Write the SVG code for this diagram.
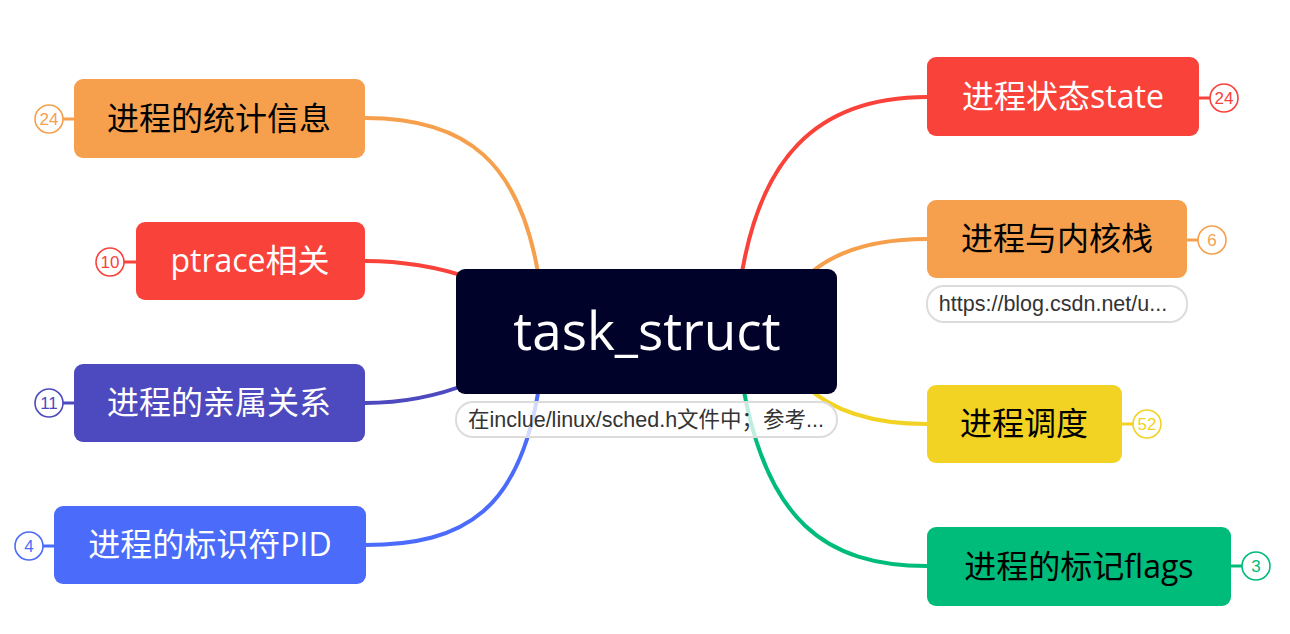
<svg xmlns="http://www.w3.org/2000/svg" width="1290" height="634" viewBox="0 0 1290 634">
<style>
.cj{font-family:"Open Sans","Noto Sans CJK SC",sans-serif;font-size:32px;text-anchor:middle}
.bd{fill:#fff;stroke-width:1.6}
.bt{font-family:"Liberation Sans",sans-serif;font-size:17px;text-anchor:middle}
.ln{fill:none;stroke-width:4;stroke-linecap:round}
.note rect{fill:#fff;fill-opacity:0.75;stroke:#dcdcdc;stroke-width:2}
.note text{font-family:"Liberation Sans","Noto Sans CJK SC",sans-serif;font-size:21.5px;fill:#333;text-anchor:middle}
</style>
<rect width="1290" height="634" fill="#fff"/>
<g id="connectors">
<path class="ln" stroke="#F6A04D" d="M540 285 C522 160 465 118 365 118"/>
<path class="ln" stroke="#F9423A" d="M470 278 Q420 261 365 261"/>
<path class="ln" stroke="#4D49BE" d="M470 383 Q420 403 365 403"/>
<path class="ln" stroke="#4B6BFB" d="M540 380 C522 510 465 545 365 545"/>
<path class="ln" stroke="#F9423A" d="M740 285 C758 160 815 97 927 97"/>
<path class="ln" stroke="#F6A04D" d="M805 278 Q845 239 927 239"/>
<path class="ln" stroke="#F2D323" d="M805 385 Q845 424 927 424"/>
<path class="ln" stroke="#00BC7B" d="M742 380 C765 520 825 566 927 566"/>
<g stroke-width="3">
<line x1="74" y1="119" x2="63" y2="119" stroke="#F6A04D"/>
<line x1="136" y1="262" x2="124" y2="262" stroke="#F9423A"/>
<line x1="74" y1="403" x2="63" y2="403" stroke="#4D49BE"/>
<line x1="54" y1="546" x2="43" y2="546" stroke="#4B6BFB"/>
<line x1="1199" y1="98" x2="1210" y2="98" stroke="#F9423A"/>
<line x1="1187" y1="240" x2="1198" y2="240" stroke="#F6A04D"/>
<line x1="1122" y1="424" x2="1133" y2="424" stroke="#F2D323"/>
<line x1="1231" y1="566" x2="1242" y2="566" stroke="#00BC7B"/>
</g>
</g>
<g id="center">
<rect x="456" y="269" width="381" height="125" rx="9" fill="#000229"/>
<text x="647" y="350" font-family="Open Sans, sans-serif" font-size="53" fill="#fff" text-anchor="middle">task_struct</text>
</g>
<g id="center-note" class="note">
<rect x="456" y="402" width="381" height="35" rx="17"/>
<text x="646" y="427">在inclue/linux/sched.h文件中；参考...</text>
</g>
<g id="n-stats">
<rect x="74" y="79" width="291" height="79" rx="9" fill="#F6A04D"/>
<text class="cj" x="219" y="130" fill="#000">进程的统计信息</text>
<circle class="bd" cx="49" cy="119" r="14" stroke="#F6A04D"/>
<text class="bt" x="49" y="125" fill="#F6A04D">24</text>
</g>
<g id="n-ptrace">
<rect x="136" y="222" width="229" height="78" rx="9" fill="#F9423A"/>
<text class="cj" x="250" y="272" fill="#fff">ptrace相关</text>
<circle class="bd" cx="110" cy="262" r="14" stroke="#F9423A"/>
<text class="bt" x="110" y="268" fill="#F9423A">10</text>
</g>
<g id="n-family">
<rect x="74" y="364" width="291" height="78" rx="9" fill="#4D49BE"/>
<text class="cj" x="219" y="414" fill="#fff">进程的亲属关系</text>
<circle class="bd" cx="49" cy="403" r="14" stroke="#4D49BE"/>
<text class="bt" x="49" y="409" fill="#4D49BE">11</text>
</g>
<g id="n-pid">
<rect x="54" y="506" width="312" height="78" rx="9" fill="#4B6BFB"/>
<text class="cj" x="210" y="556" fill="#fff">进程的标识符PID</text>
<circle class="bd" cx="29" cy="546" r="14" stroke="#4B6BFB"/>
<text class="bt" x="29" y="552" fill="#4B6BFB">4</text>
</g>
<g id="n-state">
<rect x="927" y="57" width="272" height="79" rx="9" fill="#F9423A"/>
<text class="cj" x="1063" y="108" fill="#fff">进程状态state</text>
<circle class="bd" cx="1224" cy="98" r="14" stroke="#F9423A"/>
<text class="bt" x="1224" y="104" fill="#F9423A">24</text>
</g>
<g id="n-stack">
<rect x="927" y="200" width="260" height="78" rx="9" fill="#F6A04D"/>
<text class="cj" x="1057" y="250" fill="#000">进程与内核栈</text>
<circle class="bd" cx="1212" cy="240" r="14" stroke="#F6A04D"/>
<text class="bt" x="1212" y="246" fill="#F6A04D">6</text>
</g>
<g id="stack-note" class="note">
<rect x="927" y="286" width="260" height="36" rx="17"/>
<text x="1053" y="311">https://blog.csdn.net/u...</text>
</g>
<g id="n-sched">
<rect x="927" y="385" width="195" height="78" rx="9" fill="#F2D323"/>
<text class="cj" x="1024" y="435" fill="#000">进程调度</text>
<circle class="bd" cx="1147" cy="424" r="14" stroke="#F2D323"/>
<text class="bt" x="1147" y="430" fill="#F2D323">52</text>
</g>
<g id="n-flags">
<rect x="927" y="527" width="304" height="79" rx="9" fill="#00BC7B"/>
<text class="cj" x="1079" y="578" fill="#000">进程的标记flags</text>
<circle class="bd" cx="1256" cy="566" r="14" stroke="#00BC7B"/>
<text class="bt" x="1256" y="572" fill="#00BC7B">3</text>
</g>
</svg>
